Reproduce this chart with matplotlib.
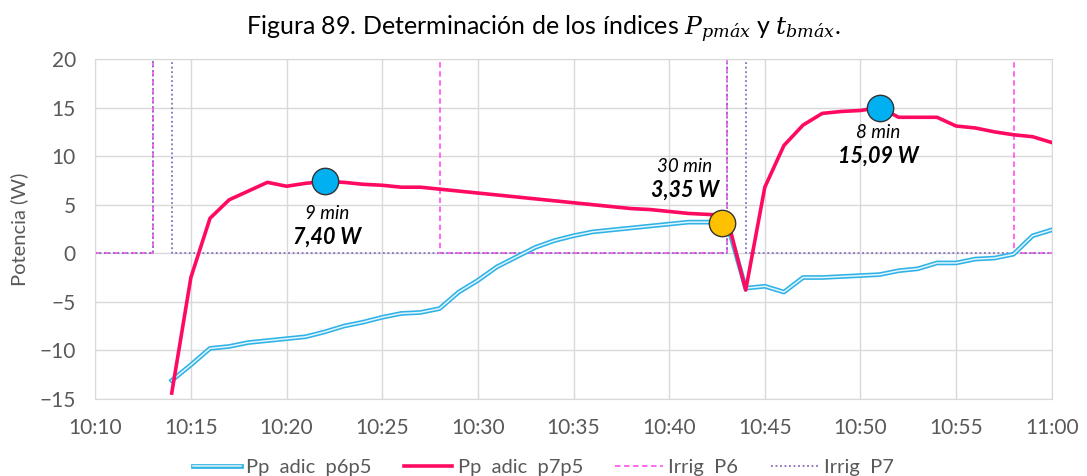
import matplotlib
matplotlib.use("Agg")
import matplotlib.pyplot as plt
import matplotlib.dates as mdates
import pandas as pd

# Data (one value per minute)
minutes = ["10:14", "10:15", "10:16", "10:17", "10:18", "10:19", "10:20", "10:21",
           "10:22", "10:23", "10:24", "10:25", "10:26", "10:27", "10:28", "10:29",
           "10:30", "10:31", "10:32", "10:33", "10:34", "10:35", "10:36", "10:37",
           "10:38", "10:39", "10:40", "10:41", "10:42", "10:43", "10:44", "10:45",
           "10:46", "10:47", "10:48", "10:49", "10:50", "10:51", "10:52", "10:53",
           "10:54", "10:55", "10:56", "10:57", "10:58", "10:59", "11:00"]
pp_p6p5 = [-13.1, -11.5, -9.8, -9.6, -9.2, -9.0, -8.8, -8.6,
           -8.1, -7.5, -7.1, -6.6, -6.2, -6.1, -5.7, -4.0,
           -2.8, -1.4, -0.4, 0.6, 1.3, 1.8, 2.2, 2.4,
           2.6, 2.8, 3.0, 3.2, 3.2, 3.3, -3.6, -3.4,
           -4.0, -2.5, -2.5, -2.4, -2.3, -2.2, -1.8, -1.6,
           -1.0, -1.0, -0.6, -0.5, -0.1, 1.8, 2.4]
pp_p7p5 = [-14.4, -2.5, 3.6, 5.5, 6.4, 7.3, 6.9, 7.2,
           7.4, 7.3, 7.1, 7.0, 6.8, 6.8, 6.6, 6.4,
           6.2, 6.0, 5.8, 5.6, 5.4, 5.2, 5.0, 4.8,
           4.6, 4.5, 4.3, 4.1, 4.0, 3.9, -3.8, 6.8,
           11.1, 13.2, 14.4, 14.6, 14.7, 15.0, 14.0, 14.0,
           14.0, 13.1, 12.9, 12.5, 12.2, 12.0, 11.4]

irrig_p6_t = ["10:10", "10:13", "10:13", "10:28", "10:28", "10:43", "10:43", "10:58", "10:58", "11:00"]
irrig_p6 = [0, 0, 30, 30, 0, 0, 30, 30, 0, 0]
irrig_p7_t = ["10:10", "10:13", "10:13", "10:14", "10:14", "10:43", "10:43", "10:44", "10:44", "11:00"]
irrig_p7 = [0, 0, 30, 30, 0, 0, 30, 30, 0, 0]

# highlighted points: (time, value, colour)
marks_t = ["10:22:00", "10:42:45", "10:51:00"]
marks_v = [7.40, 3.1, 15.0]
marks_c = ["#00b0f0", "#ffc000", "#00b0f0"]

notes_t = ["10:22:06", "10:40:50", "10:50:55"]
notes_min = ["9 min", "30 min", "8 min"]
notes_w = ["7,40 W", "3,35 W", "15,09 W"]
notes_y = [4.1, 8.9, 12.4]


def to_time(values):
    return pd.to_datetime(["2020-01-01 " + v for v in values])


t = to_time(minutes)

plt.rcParams["font.family"] = ["Lato", "DejaVu Sans"]
plt.rcParams["mathtext.fontset"] = "dejavuserif"
gray = "#595959"

fig = plt.figure(figsize=(10.87, 4.76), dpi=100)
ax = fig.add_axes([0.0876, 0.162, 0.880, 0.714])

outer, = ax.plot(t, pp_p6p5, color="#2fb2e6", lw=3.4, zorder=3)
inner, = ax.plot(t, pp_p6p5, color="#e2f5fd", lw=1.1, zorder=3)
red, = ax.plot(t, pp_p7p5, color="#ff0a62", lw=2.6, zorder=4)
p6, = ax.plot(to_time(irrig_p6_t), irrig_p6, color="#ff5cf0", lw=1.3,
              ls=(0, (3, 2)), zorder=2)
p7, = ax.plot(to_time(irrig_p7_t), irrig_p7, color="#8a6cc0", lw=1.3,
              ls=(0, (1, 1.5)), zorder=2)

for mt, mv, mc in zip(to_time(marks_t), marks_v, marks_c):
    ax.plot(mt, mv, "o", ms=19, mfc=mc, mec="#333333", mew=1.0, zorder=6)

for nt, nm, nw, ny in zip(to_time(notes_t), notes_min, notes_w, notes_y):
    ax.text(nt, ny, nm, ha="center", va="center", fontsize=13.5,
            style="italic", color="black", zorder=7)
    ax.text(nt, ny - 2.45, nw, ha="center", va="center", fontsize=15.5,
            style="italic", weight="bold", color="black", zorder=7)

ax.set_xlim(to_time(["10:10"])[0], to_time(["11:00"])[0])
ax.set_ylim(-15, 20)
ax.set_yticks(range(-15, 21, 5))
ax.xaxis.set_major_locator(mdates.MinuteLocator(byminute=range(0, 60, 5)))
ax.xaxis.set_major_formatter(mdates.DateFormatter("%H:%M"))
ax.grid(color="#d9d9d9", lw=1.0)
ax.set_axisbelow(True)
for s in ax.spines.values():
    s.set_color("#d9d9d9")
ax.tick_params(length=0, labelsize=15, colors=gray)
ax.tick_params(axis="x", pad=14)
ax.tick_params(axis="y", pad=14)
ax.set_ylabel("Potencia (W)", fontsize=14.5, color=gray, labelpad=8)

fig.text(0.5, 0.938, r"Figura 89. Determinación de los índices $P_{pm\acute{a}x}$ y $t_{bm\acute{a}x}$.",
         ha="center", va="center", fontsize=18, color="black")

ax.legend([(outer, inner), red, p6, p7],
          ["Pp  adic  p6p5", "Pp  adic  p7p5", "Irrig  P6", "Irrig  P7"],
          loc="center", bbox_to_anchor=(0.5, 0.018), bbox_transform=fig.transFigure,
          ncol=4, frameon=False, fontsize=14.5, labelcolor=gray,
          handlelength=2.4, handletextpad=0.25, columnspacing=1.6)

fig.savefig("out.png", dpi=100)
